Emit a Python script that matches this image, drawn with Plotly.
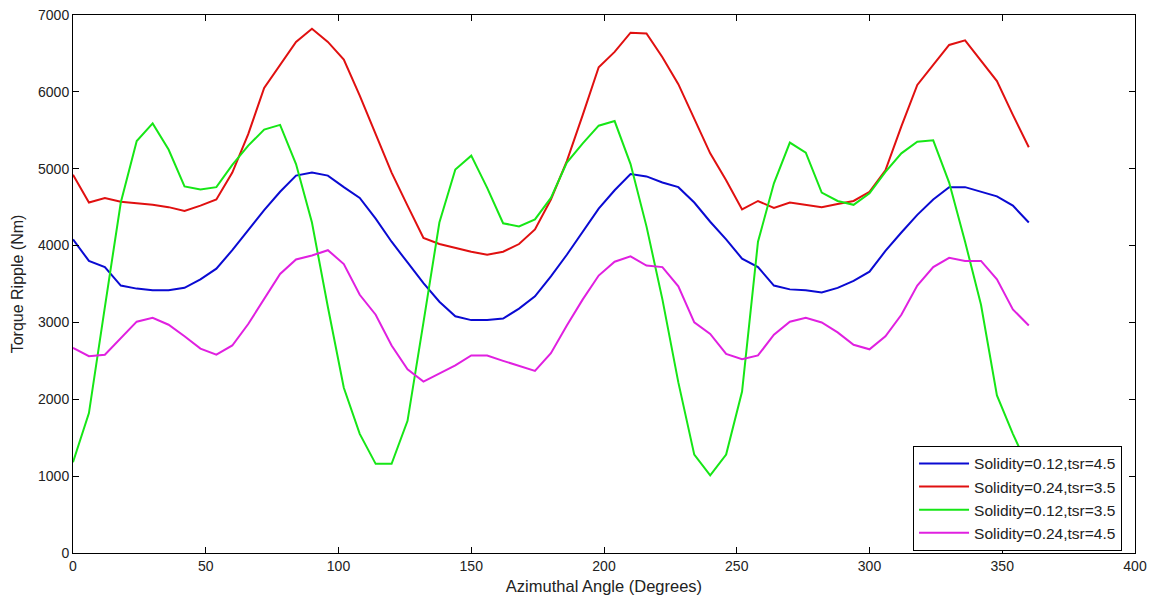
import plotly.graph_objects as go

angles = list(range(0, 361, 6))

blue_s012_tsr45 = [4080, 3800, 3720, 3480, 3440, 3420, 3420, 3450, 3560, 3700,
                   3940, 4200, 4460, 4700, 4910, 4950, 4910, 4760, 4620, 4350,
                   4050, 3780, 3510, 3270, 3080, 3030, 3030, 3050, 3180, 3340,
                   3600, 3880, 4180, 4480, 4720, 4930, 4900, 4820, 4760, 4560,
                   4310, 4080, 3830, 3720, 3480, 3430, 3420, 3390, 3450, 3540,
                   3660, 3930, 4170, 4400, 4600, 4760, 4760, 4700, 4640, 4520,
                   4300]

red_s024_tsr35 = [4920, 4560, 4620, 4570, 4550, 4530, 4500, 4450, 4520, 4600,
                  4950, 5450, 6050, 6350, 6650, 6820, 6650, 6420, 5950, 5450,
                  4950, 4520, 4100, 4020, 3970, 3920, 3880, 3920, 4020, 4210,
                  4600, 5100, 5700, 6320, 6520, 6770, 6760, 6450, 6100, 5650,
                  5200, 4850, 4470, 4580, 4490, 4560, 4530, 4500, 4540, 4580,
                  4700, 4980, 5550, 6090, 6350, 6610, 6670, 6400, 6140, 5700,
                  5280]

green_s012_tsr35 = [1180, 1820, 3200, 4560, 5360, 5590, 5250, 4770, 4730, 4760,
                    5050, 5300, 5510, 5570, 5060, 4300, 3200, 2150, 1550, 1160,
                    1160, 1720, 3000, 4300, 4990, 5170, 4750, 4290, 4250, 4340,
                    4620, 5080, 5330, 5560, 5620, 5060, 4250, 3300, 2220, 1280,
                    1010, 1280, 2100, 4050, 4810, 5340, 5210, 4690, 4580, 4530,
                    4680, 4960, 5200, 5350, 5370, 4820, 4050, 3230, 2050, 1550,
                    1100]

magenta_s024_tsr45 = [2670, 2560, 2580, 2800, 3010, 3060, 2970, 2820, 2660, 2580,
                      2700, 2980, 3300, 3630, 3820, 3870, 3940, 3760, 3360, 3100,
                      2700, 2390, 2230, 2330, 2440, 2570, 2570, 2500, 2430, 2370,
                      2600, 2960, 3300, 3610, 3790, 3860, 3740, 3720, 3470, 3000,
                      2850, 2590, 2520, 2570, 2840, 3010, 3060, 3000, 2870, 2710,
                      2650, 2820, 3100, 3480, 3720, 3840, 3800, 3800, 3560, 3170,
                      2960]

series_names = ["Solidity=0.12,tsr=4.5", "Solidity=0.24,tsr=3.5",
                "Solidity=0.12,tsr=3.5", "Solidity=0.24,tsr=4.5"]
series_values = [blue_s012_tsr45, red_s024_tsr35, green_s012_tsr35, magenta_s024_tsr45]
series_colors = ["#0a0ad2", "#e01010", "#16e616", "#e020e0"]

x_ticks = [0, 50, 100, 150, 200, 250, 300, 350, 400]
y_ticks = [0, 1000, 2000, 3000, 4000, 5000, 6000, 7000]

fig = go.Figure()
for name, vals, col in zip(series_names, series_values, series_colors):
    fig.add_trace(go.Scatter(x=angles, y=vals, mode="lines", name=name,
                             line=dict(color=col, width=2)))

font_family = "Liberation Sans, Arial, sans-serif"
fig.update_layout(
    width=1160, height=603,
    margin=dict(l=73, r=25, t=15, b=50),
    paper_bgcolor="white", plot_bgcolor="white",
    font=dict(family=font_family, size=14, color="#222222"),
    showlegend=True,
    legend=dict(x=0.9878, y=0.004, xanchor="right", yanchor="bottom",
                bgcolor="white", bordercolor="black", borderwidth=1,
                font=dict(size=15.5, color="#222222"), tracegroupgap=0,
                itemwidth=50),
    xaxis=dict(range=[0, 400], tickvals=x_ticks, showgrid=False, zeroline=False,
               showline=True, linecolor="black", linewidth=1, mirror="ticks",
               ticks="inside", ticklen=6, tickcolor="black", automargin=False,
               title=dict(text="Azimuthal Angle (Degrees)", standoff=7,
                          font=dict(size=16.5))),
    yaxis=dict(range=[0, 7000], tickvals=y_ticks, showgrid=False, zeroline=False,
               showline=True, linecolor="black", linewidth=1, mirror="ticks",
               ticks="inside", ticklen=6, tickcolor="black", automargin=False,
               title=dict(text="Torque Ripple (Nm)", standoff=10,
                          font=dict(size=16))),
)

fig.write_html("out.html")
